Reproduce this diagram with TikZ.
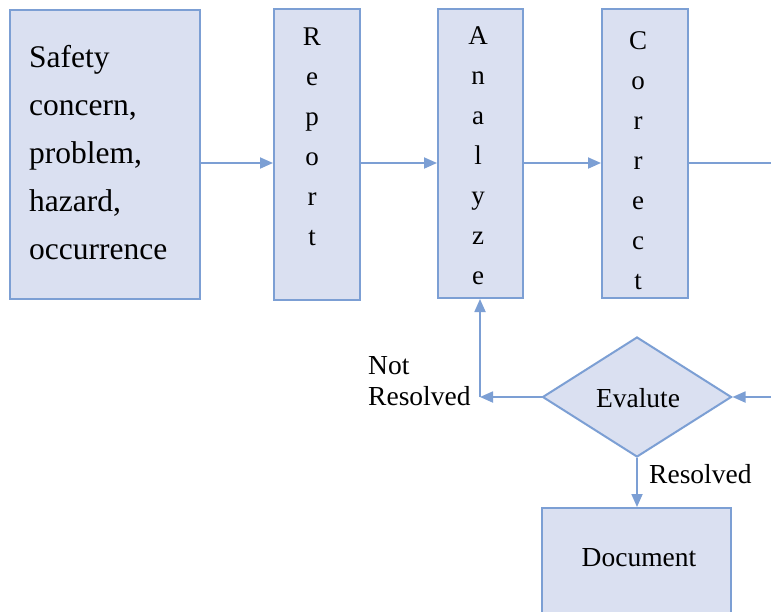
\documentclass[tikz,border=0pt]{standalone}
\usepackage{fontspec}
\setmainfont{Liberation Serif}
\usetikzlibrary{arrows.meta,shapes.geometric}
\definecolor{boxfill}{RGB}{218,224,241}
\definecolor{boxline}{RGB}{124,159,212}
\tikzset{
  box/.style={draw=boxline, fill=boxfill, line width=2pt, inner sep=0pt},
  conn/.style={draw=boxline, line width=1.8pt},
  arr/.style={conn, -{Triangle[length=13pt,width=11pt]}},
  lbl/.style={inner sep=0pt, font=\fontsize{27.5}{31}\selectfont},
  vtxt/.style={inner sep=0pt, align=center, font=\fontsize{27}{40}\selectfont},
}
\begin{document}
\begin{tikzpicture}[x=1pt,y=-1pt]
\clip (0,0) rectangle (771,611);
\fill[white] (0,0) rectangle (771,611);
% boxes
\node[box, minimum width=190pt, minimum height=289pt] (src) at (105,154.5) {};
\node[inner sep=0pt, anchor=west, align=left, font=\fontsize{31.5}{47.8}\selectfont] (srctxt) at (29,152.5)
  {Safety\\concern,\\problem,\\hazard,\\occurrence};
\node[box, minimum width=86pt, minimum height=291pt] (rep) at (317,154.5) {};
\node[vtxt] (reptxt) at (312,137) {R\\e\\p\\o\\r\\t};
\node[box, minimum width=85pt, minimum height=289pt] (ana) at (480.5,153.5) {};
\node[vtxt] (anatxt) at (478,156) {A\\n\\a\\l\\y\\z\\e};
\node[box, minimum width=86pt, minimum height=289pt] (cor) at (645,153.5) {};
\node[vtxt] (cortxt) at (638,161) {C\\o\\r\\r\\e\\c\\t};
% diamond
\node[box, diamond, aspect=1.6, minimum width=189pt, minimum height=120pt] (eval) at (637,397) {};
\node[lbl] (evaltxt) at (638,398) {Evalute};
% document
\node[box, minimum width=189pt, minimum height=130pt] (doc) at (636.5,573) {};
\node[lbl] (doctxt) at (639,558) {Document};
% labels
\node[lbl, anchor=west, align=left] (notres) at (368,381) {Not\\Resolved};
\node[lbl, anchor=west] (res) at (649,474) {Resolved};
% coordinates
\coordinate (ay) at (0,163);
\coordinate (rout) at (771,163);
\coordinate (rin) at (771,397);
\coordinate (nr) at (480,397);
% connectors
\draw[arr] (src.east |- ay) -- (rep.west |- ay);
\draw[arr] (rep.east |- ay) -- (ana.west |- ay);
\draw[arr] (ana.east |- ay) -- (cor.west |- ay);
\draw[conn] (cor.east |- ay) -- (rout);
\draw[arr] (rin) -- (eval.east);
\draw[arr] (eval.west) -- (nr);
\draw[arr] (nr) -- (nr |- ana.south);
\draw[arr] (eval.south) -- (eval.south |- doc.north);
\end{tikzpicture}
\end{document}
